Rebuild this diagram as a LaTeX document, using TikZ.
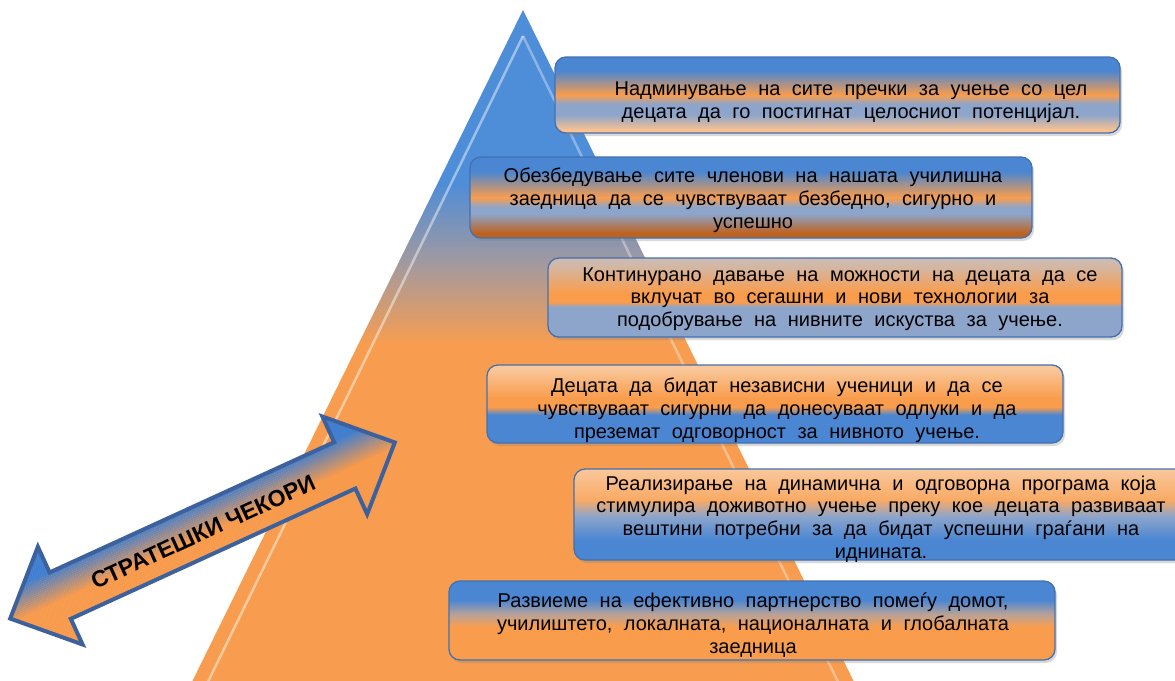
\documentclass[tikz,border=0pt]{standalone}
\usepackage{fontspec}
\setmainfont{Liberation Sans}
\newfontfamily\boxfont{Liberation Sans}
\newfontfamily\arrowfont{Liberation Sans}
\newcommand\myboxfontsetup{\boxfont\fontsize{20}{22.8}\selectfont\spaceskip 11.5pt plus 2pt minus 2pt\relax}
\usetikzlibrary{shadows}
\definecolor{bblue}{HTML}{4A86D2}
\definecolor{bsteel}{HTML}{8DA5CB}
\definecolor{borange}{HTML}{F99D4D}
\definecolor{bpeach}{HTML}{F9C89C}
\definecolor{bbrown}{HTML}{BE621E}
\definecolor{bborder}{HTML}{4470B0}
\definecolor{pblue}{HTML}{4E8DD8}
\definecolor{pgray}{HTML}{A89A9B}
\definecolor{porange}{HTML}{F89D4F}
\definecolor{ablue}{HTML}{3F7ED0}
\definecolor{aorange}{HTML}{F79A4C}
\definecolor{aborder}{HTML}{3D619C}
\pgfdeclareverticalshading{pyrs}{100bp}{color(0bp)=(porange); color(50.4bp)=(porange); color(56bp)=(pgray); color(62.3bp)=(pblue); color(100bp)=(pblue)}
\pgfdeclareverticalshading{boxa}{100bp}{color(0bp)=(bpeach); color(27bp)=(bpeach!85!borange); color(37bp)=(bsteel); color(44bp)=(bsteel); color(50bp)=(borange); color(66bp)=(bblue); color(100bp)=(bblue)}
\pgfdeclareverticalshading{boxb}{100bp}{color(0bp)=(bbrown); color(28bp)=(bbrown); color(40bp)=(bsteel); color(44bp)=(bsteel); color(50bp)=(borange); color(66bp)=(bblue); color(100bp)=(bblue)}
\pgfdeclareverticalshading{boxc}{100bp}{color(0bp)=(bsteel); color(44bp)=(bsteel); color(47bp)=(borange); color(53bp)=(borange); color(72bp)=(bpeach!60!bsteel); color(100bp)=(bpeach!60!bsteel)}
\pgfdeclareverticalshading{boxd}{100bp}{color(0bp)=(bblue); color(43bp)=(bblue); color(48bp)=(borange); color(54bp)=(borange); color(73bp)=(bpeach); color(100bp)=(bpeach)}
\pgfdeclareverticalshading{boxe}{100bp}{color(0bp)=(bblue); color(36bp)=(bblue); color(49bp)=(bsteel); color(58bp)=(borange!70!bpeach); color(75bp)=(bpeach); color(100bp)=(bpeach)}
\pgfdeclareverticalshading{boxf}{100bp}{color(0bp)=(borange); color(46bp)=(borange); color(54bp)=(bsteel!60!borange); color(63bp)=(bblue); color(100bp)=(bblue)}
\tikzset{
  stepbox/.style={draw=bborder, line width=1.3pt, rounded corners=11pt, inner sep=0pt,
    drop shadow={shadow xshift=2pt, shadow yshift=-3pt, opacity=0.3}},
  boxtext/.style={font=\myboxfontsetup, align=center, inner sep=0pt, text=black},
  arrowtext/.style={font=\arrowfont\bfseries\fontsize{23}{26}\selectfont, inner sep=0pt, text=black}
}
\begin{document}
\begin{tikzpicture}[x=1pt,y=-1pt]
\useasboundingbox (0,0) rectangle (1175,680);
% pyramid
\shade[shading=pyrs] (523,10) -- (858,690) -- (188,690) -- cycle;
\draw[white, opacity=0.45, line width=2.5pt] (523,36) -- (204,690);
\draw[white, opacity=0.35, line width=2.5pt] (523,36) -- (842,690);
% arrow
\begin{scope}[shift={(202.5,530.5)}, rotate=24.6]
  \begin{scope}
    \clip (-211.5,0) -- (-156.5,-53.7) -- (-156.5,-25.5) -- (156.5,-25.5) -- (156.5,-53.7) -- (211.5,0) -- (156.5,53.7) -- (156.5,25.5) -- (-156.5,25.5) -- (-156.5,53.7) -- cycle;
    \foreach \i in {0,...,55} {
      \pgfmathsetmacro\yy{-56+2*\i}
      \pgfmathsetmacro\pp{max(0,min(100,(4-\yy)/32*100))}
      \fill[ablue!\pp!aorange] (-215,\yy) rectangle (215,\yy+2.2);
    }
  \end{scope}
  \draw[aborder, line width=4pt, line join=miter] (-211.5,0) -- (-156.5,-53.7) -- (-156.5,-25.5) -- (156.5,-25.5) -- (156.5,-53.7) -- (211.5,0) -- (156.5,53.7) -- (156.5,25.5) -- (-156.5,25.5) -- (-156.5,53.7) -- cycle;
\end{scope}
\node[arrowtext, rotate=24.6] (lbl) at (203,532) {СТРАТЕШКИ ЧЕКОРИ};
% boxes
\node[stepbox, shading=boxa, minimum width=565pt, minimum height=76pt] (b1) at (837.5,95) {};
\node[stepbox, shading=boxb, minimum width=562pt, minimum height=81pt] (b2) at (751,197.5) {};
\node[stepbox, shading=boxc, minimum width=574pt, minimum height=79pt] (b3) at (835,297.5) {};
\node[stepbox, shading=boxd, minimum width=576pt, minimum height=78pt] (b4) at (775,404) {};
\node[stepbox, shading=boxe, minimum width=612pt, minimum height=91pt] (b5) at (880,514.5) {};
\node[stepbox, shading=boxf, minimum width=606pt, minimum height=79pt] (b6) at (752,620.5) {};
% texts
\node[boxtext] (t1) at (851,102) {Надминување на сите пречки за учење со цел\\децата да го постигнат целосниот потенцијал.};
\node[boxtext] (t2) at (753,200) {Обезбедување сите членови на нашата училишна\\заедница да се чувствуваат безбедно, сигурно и\\успешно};
\node[boxtext] (t3) at (840,299) {Континурано давање на можности на децата да се\\вклучат во сегашни и нови технологии за\\подобрување на нивните искуства за учење.};
\node[boxtext] (t4) at (777,410) {Децата да бидат независни ученици и да се\\чувствуваат сигурни да донесуваат одлуки и да\\преземат одговорност за нивното учење.};
\node[boxtext] (t5) at (881,519) {Реализирање на динамична и одговорна програма која\\стимулира доживотно учење преку кое децата развиваат\\вештини потребни за да бидат успешни граѓани на\\иднината.};
\node[boxtext] (t6) at (753,625) {Развиеме на ефективно партнерство помеѓу домот,\\училиштето, локалната, националната и глобалната\\заедница};
\end{tikzpicture}
\end{document}
